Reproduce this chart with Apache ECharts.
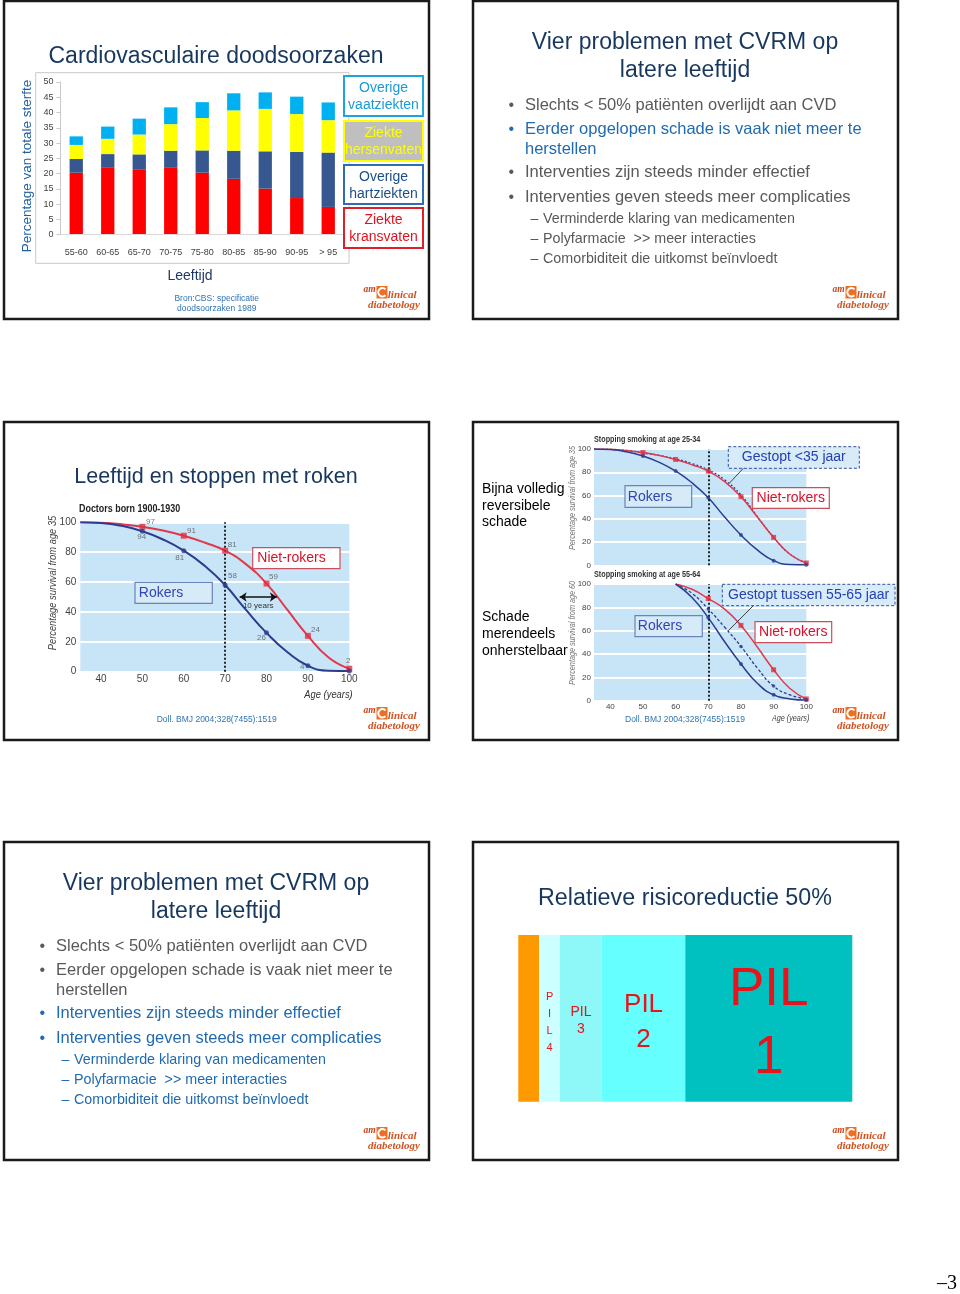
<!DOCTYPE html>
<html><head><meta charset="utf-8">
<script src="https://cdn.jsdelivr.net/npm/echarts/dist/echarts.min.js"></script>
<style>html,body{margin:0;padding:0;background:#fff}#c{width:960px;height:1294px}</style>
</head><body><div id="c"></div>
<script>
// ---------- DATA ----------
// Slide 1: Cardiovasculaire doodsoorzaken (stacked %, per age group)
const ageGroups = ['55-60', '60-65', '65-70', '70-75', '75-80', '80-85', '85-90', '90-95', '> 95'];
const kransvaten  = [20.3, 21.9, 21.4, 21.9, 20.3, 18.3, 15.1, 12.0, 9.1];
const overigeHart = [4.5, 4.5, 4.9, 5.6, 7.3, 9.2, 12.2, 15.1, 17.8];
const hersenvaten = [4.6, 5.0, 6.5, 8.7, 10.6, 13.2, 13.9, 12.4, 10.6];
const overigeVaat = [2.8, 4.0, 5.2, 5.5, 5.2, 5.6, 5.4, 5.7, 5.8];
const barYTicks = [0, 50, 5];

// Slide 3 / slide 4 top: survival from age 35
const curveAges       = [35, 40, 45, 50, 55, 60, 65, 70, 75, 80, 85, 90, 95, 100];
const nonSmokerCurve  = [100, 99.7, 98.7, 97, 94.5, 91, 86.5, 81, 72, 59, 41.5, 24, 9.5, 2];
const smokerCurve     = [100, 99.5, 97.6, 94, 88.5, 81, 71, 58, 41.5, 26, 13.2, 4, 0.6, 0.4];
const stopped25Curve  = [100, 99.7, 98.7, 96.5, 94.5, 91.5, 87.5, 82, 73.5, 60.5, 42, 24, 9.5, 2];
const markerAges      = [50, 60, 70, 80, 90, 100];
const nonSmokerMarks  = [97, 91, 81, 59, 24, 2];
const smokerMarks     = [94, 81, 58, 26, 4, 0.4];
const ageTicks        = [40, 50, 60, 70, 80, 90, 100];

// Slide 4 bottom: survival from age 60, stopping at 55-64
const lateAges         = [60, 65, 70, 75, 80, 85, 90, 95, 100];
const lateNonSmoker    = [100, 95.5, 87.5, 78.5, 64.5, 46, 26.5, 10.5, 1.5];
const lateSmoker       = [100, 88.5, 71, 50.5, 31.5, 15, 5, 1.5, 0.5];
const lateStopped      = [100, 92, 78.5, 63, 46.5, 28, 12.5, 5, 1.5];
const lateMarkAges     = [70, 80, 90, 100];
const lateNonSmokMarks = [87.5, 64.5, 26.5, 1.5];
const lateSmokMarks    = [71, 31.5, 5, 0.5];
const lateStopMarks    = [78.5, 46.5, 12.5];

// Slide 6: Relatieve risicoreductie 50%
const pilLabels = ['', 'P\nI\nL\n4', 'PIL\n3', 'PIL\n2', 'PIL\n1'];
const pilShares = [6.25, 6.25, 12.5, 25, 50];

// ---------- STYLE / LAYOUT ----------
const FF = '"Liberation Sans", Arial, sans-serif';
const FN = '"Liberation Sans Narrow", "Liberation Sans", Arial, sans-serif';
const SERIF = '"Liberation Serif", "Times New Roman", serif';
const NAVY = '#17375e', GRAY = '#595959', BLUE = '#1f6ab0', CITE = '#2e75b6';
const RED_L = '#e0394b', BLUE_L = '#2c3d8f', PLOT_BG = '#c8e5f7';

function T(x, y, text, o) {
  o = o || {};
  const align = o.align || 'center', va = o.va || 'middle';
  return { type: 'text', x: x, y: y, rotation: o.rot || 0, scaleX: o.sx || 1, z: o.z || 20, silent: true,
    style: { text: text, fill: o.color || '#000', fontSize: o.size || 12, fontFamily: o.family || FF,
      fontStyle: o.italic ? 'italic' : 'normal', fontWeight: o.bold ? 'bold' : 'normal',
      align: align, verticalAlign: va, textAlign: align, textVerticalAlign: va } };
}
function R(x, y, w, h, o) {
  o = o || {};
  return { type: 'rect', z: o.z || 1, silent: true, shape: { x: x, y: y, width: w, height: h },
    style: { fill: o.fill || 'none', stroke: o.stroke || null, lineWidth: o.lw || 1, lineDash: o.dash || null } };
}
function L(x1, y1, x2, y2, o) {
  o = o || {};
  return { type: 'line', z: o.z || 15, silent: true, shape: { x1: x1, y1: y1, x2: x2, y2: y2 },
    style: { stroke: o.color || '#333', lineWidth: o.lw || 1, lineDash: o.dash || null } };
}
function logo(ox, oy) {
  return [
    T(ox + 365.5, oy + 288.5, 'am', { size: 9.5, italic: true, bold: true, family: SERIF, color: '#c9471c' }),
    R(ox + 372.5, oy + 285, 11, 12.5, { fill: '#ee6e24', z: 20 }),
    { type: 'arc', z: 21, silent: true, shape: { cx: ox + 378.5, cy: oy + 291.3, r: 4.2, startAngle: 0.8, endAngle: 5.5, clockwise: true },
      style: { stroke: '#fff', lineWidth: 2, fill: 'none' } },
    T(ox + 383.8, oy + 294.5, 'linical', { align: 'left', size: 11, italic: true, bold: true, family: SERIF, color: '#cf5320' }),
    T(ox + 390, oy + 304.3, 'diabetology', { size: 11, italic: true, bold: true, family: SERIF, color: '#cf5320' })
  ];
}
const slides = [[4, 1], [473, 1], [4, 422], [473, 422], [4, 842], [473, 842]];

const G = [];
slides.forEach(function (s) {
  G.push(R(s[0], s[1], 425, 318, { stroke: '#1a1a1a', lw: 2.5, z: 30 }));
  logo(s[0], s[1]).forEach(function (e) { G.push(e); });
});

// Slide 1 texts
G.push(T(216, 57, 'Cardiovasculaire doodsoorzaken', { size: 23, color: NAVY }));
G.push(R(35.7, 72.7, 313.3, 190.6, { stroke: '#c8c8c8', fill: '#fff', lw: 1, z: -5 }));
G.push(T(27, 166, 'Percentage van totale sterfte', { size: 13.5, color: '#2060a0', rot: Math.PI / 2 }));
G.push(T(190, 276, 'Leeftijd', { size: 14, color: '#1f3864' }));
G.push(T(216.7, 299, 'Bron:CBS: specificatie', { size: 8.5, color: CITE }));
G.push(T(216.7, 308.3, 'doodsoorzaken 1989', { size: 8.5, color: CITE }));
const legendBoxes = [
  { y: 76, h: 40, lines: ['Overige', 'vaatziekten'], stroke: '#1fa2de', fill: '#fff', color: '#1a9ad6' },
  { y: 121, h: 40, lines: ['Ziekte', 'hersenvaten'], stroke: '#ffff00', fill: '#bfbfbf', color: '#ffff00' },
  { y: 165, h: 39, lines: ['Overige', 'hartziekten'], stroke: '#2e6db4', fill: '#fff', color: '#1b4f8a' },
  { y: 208, h: 40, lines: ['Ziekte', 'kransvaten'], stroke: '#e01e28', fill: '#fff', color: '#e0141e' }
];
legendBoxes.forEach(function (b) {
  G.push(R(344, b.y, 79, b.h, { stroke: b.stroke, fill: b.fill, lw: 2, z: 10 }));
  G.push(T(383.5, b.y + 12, b.lines[0], { size: 14, color: b.color }));
  G.push(T(383.5, b.y + 29.5, b.lines[1], { size: 14, color: b.color }));
});

// Slide 2 and 5 bullet texts
function bullets(ox, oy, blueIdx, subBlue) {
  const rows = [
    ['Slechts < 50% patiënten overlijdt aan CVD', 104.3],
    ['Eerder opgelopen schade is vaak niet meer te', 128.3, 'herstellen', 148],
    ['Interventies zijn steeds minder effectief', 171.7],
    ['Interventies geven steeds meer complicaties', 196.3]
  ];
  rows.forEach(function (r, i) {
    const c = blueIdx.indexOf(i) >= 0 ? BLUE : GRAY;
    G.push(T(ox + 38.3, oy + r[1], '•', { size: 16, color: c }));
    G.push(T(ox + 52, oy + r[1], r[0], { size: 16.5, color: c, align: 'left' }));
    if (r[2]) G.push(T(ox + 52, oy + r[3], r[2], { size: 16.5, color: c, align: 'left' }));
  });
  const subs = [['Verminderde klaring van medicamenten', 217.7], ['Polyfarmacie  >> meer interacties', 238.3], ['Comorbiditeit die uitkomst beïnvloedt', 258.3]];
  subs.forEach(function (r) {
    const c = subBlue ? BLUE : GRAY;
    G.push(T(ox + 57.5, oy + r[1], '–', { size: 14, color: c, align: 'left' }));
    G.push(T(ox + 70, oy + r[1], r[0], { size: 14.3, color: c, align: 'left' }));
  });
  G.push(T(ox + 212, oy + 41.7, 'Vier problemen met CVRM op', { size: 23, color: NAVY }));
  G.push(T(ox + 212, oy + 69.7, 'latere leeftijd', { size: 23, color: NAVY }));
}
bullets(473, 1, [1], false);
bullets(4, 842, [2, 3], true);

// Slide 3 texts
G.push(T(216, 477.3, 'Leeftijd en stoppen met roken', { size: 21.5, color: NAVY }));
G.push(T(79, 509.3, 'Doctors born 1900-1930', { size: 10.5, bold: true, family: FN, color: '#222', align: 'left', sx: 0.85 }));
G.push(T(53.3, 583, 'Percentage survival from age 35', { size: 11, italic: true, family: FN, color: '#444', rot: Math.PI / 2, sx: 0.85 }));
G.push(T(352.7, 695, 'Age (years)', { size: 11, italic: true, family: FN, color: '#333', align: 'right', sx: 0.85 }));
G.push(T(216.7, 719.3, 'Doll. BMJ 2004;328(7455):1519', { size: 8.5, color: CITE }));
G.push(R(135, 582.3, 77.3, 21, { stroke: '#6a84b8', fill: '#d6eaf8', lw: 1.2, z: 12 }));
G.push(T(161, 593, 'Rokers', { size: 14, color: '#3245b5', z: 13 }));
G.push(R(252.7, 547.7, 87.3, 21, { stroke: '#c8505e', fill: '#fff', lw: 1.2, z: 12 }));
G.push(T(291.5, 558.5, 'Niet-rokers', { size: 14, color: '#d8102a', z: 13 }));

// Slide 4 texts
[['Bijna volledig', 489], ['reversibele', 506], ['schade', 522.3], ['Schade', 617.3], ['merendeels', 634.3], ['onherstelbaar', 651.3]].forEach(function (r) {
  G.push(T(482, r[1], r[0], { size: 14, color: '#000', align: 'left' }));
});
G.push(T(594, 439.3, 'Stopping smoking at age 25-34', { size: 8.5, bold: true, family: FN, color: '#333', align: 'left', sx: 0.85 }));
G.push(T(594, 575, 'Stopping smoking at age 55-64', { size: 8.5, bold: true, family: FN, color: '#333', align: 'left', sx: 0.85 }));
G.push(T(573, 498, 'Percentage survival from age 35', { size: 8.5, italic: true, family: FN, color: '#777', rot: Math.PI / 2, sx: 0.85 }));
G.push(T(573, 633, 'Percentage survival from age 60', { size: 8.5, italic: true, family: FN, color: '#777', rot: Math.PI / 2, sx: 0.85 }));
G.push(T(809.3, 718.3, 'Age (years)', { size: 8.5, italic: true, family: FN, color: '#444', align: 'right', sx: 0.85 }));
G.push(T(685, 719.3, 'Doll. BMJ 2004;328(7455):1519', { size: 8.5, color: CITE }));
G.push(R(728.3, 446.7, 131, 21.6, { stroke: '#3050a0', fill: '#d8ebf8', lw: 1, dash: [3, 2], z: 12 }));
G.push(T(793.8, 457.5, 'Gestopt <35 jaar', { size: 14, color: '#2440b0', z: 13 }));
G.push(L(743.3, 468.3, 729.3, 483.3, { color: '#404040', lw: 1 }));
G.push(R(625, 485.7, 66.7, 21.6, { stroke: '#6a84b8', fill: '#d6eaf8', lw: 1.2, z: 12 }));
G.push(T(650, 497, 'Rokers', { size: 14, color: '#3245b5', z: 13 }));
G.push(R(752.3, 487.7, 77, 20.6, { stroke: '#c8505e', fill: '#fff', lw: 1.2, z: 12 }));
G.push(T(790.8, 498.3, 'Niet-rokers', { size: 14, color: '#d8102a', z: 13 }));
G.push(R(722.3, 584.3, 172.7, 21.4, { stroke: '#3050a0', fill: '#d8ebf8', lw: 1, dash: [3, 2], z: 12 }));
G.push(T(808.6, 595.3, 'Gestopt tussen 55-65 jaar', { size: 14, color: '#2440b0', z: 13 }));
G.push(L(753.3, 605.7, 728.3, 630.7, { color: '#404040', lw: 1 }));
G.push(R(635, 615.7, 67.3, 21, { stroke: '#6a84b8', fill: '#d6eaf8', lw: 1.2, z: 12 }));
G.push(T(660, 626.5, 'Rokers', { size: 14, color: '#3245b5', z: 13 }));
G.push(R(755, 621.7, 76.7, 21, { stroke: '#c8505e', fill: '#fff', lw: 1.2, z: 12 }));
G.push(T(793.3, 632.5, 'Niet-rokers', { size: 14, color: '#d8102a', z: 13 }));

// Slide 6 title and page number
G.push(T(685, 898.3, 'Relatieve risicoreductie 50%', { size: 23.3, color: NAVY }));
G.push(T(957, 1284, '–3', { size: 20, family: SERIF, color: '#000', align: 'right' }));

// ---------- SERIES HELPERS ----------
function curve(ages, vals, gi, color, width, dash, extra) {
  const s = { type: 'line', xAxisIndex: gi, yAxisIndex: gi, data: ages.map(function (a, i) { return [a, vals[i]]; }),
    smooth: 0.5, showSymbol: false, symbol: 'none', silent: true, z: 3,
    lineStyle: { color: color, width: width, type: dash || 'solid' } };
  if (extra) Object.assign(s, extra);
  return s;
}
function marks(ages, vals, gi, symbol, size, color, labels) {
  return { type: 'scatter', xAxisIndex: gi, yAxisIndex: gi, symbol: symbol, symbolSize: size, silent: true, z: 5,
    itemStyle: { color: color },
    data: ages.map(function (a, i) {
      const d = { value: [a, vals[i]] };
      if (labels) d.label = labels[i] ? { show: true, position: 'inside', offset: labels[i], fontSize: 8, color: '#555',
        fontFamily: FN, formatter: function (p) { return Math.round(p.value[1]); } } : { show: false };
      return d;
    }) };
}
function vDotted() {
  return { silent: true, symbol: ['none', 'none'], label: { show: false },
    lineStyle: { color: '#111', width: 1.8, type: [2, 2] }, data: [[{ coord: [70, 0] }, { coord: [70, 100] }]] };
}
const redLabelOffsets  = [[8, -5], [7.7, -5], [7, -5.7], [7, -6.3], [7.5, -5.7], [-1, -8.3]];
const blueLabelOffsets = [[-0.7, 6], [-4, 6.7], [7.3, -9.7], [-5, 5], [-5.7, 1.3], null];

// ---------- OPTION ----------
const survX = function (gi, showLabels, fs) {
  return { type: 'value', gridIndex: gi, min: 35, max: 100, splitLine: { show: false }, axisLine: { show: false }, axisTick: { show: false },
    axisLabel: { show: showLabels, customValues: ageTicks, fontSize: fs, color: '#444', fontFamily: FN, margin: fs > 9 ? 3 : 2 } };
};
const survY = function (gi, fs, margin) {
  return { type: 'value', gridIndex: gi, min: 0, max: 100, interval: 20, axisLine: { show: false }, axisTick: { show: false },
    splitLine: { show: true, lineStyle: { color: '#ffffff', width: 2 } },
    axisLabel: { fontSize: fs, color: '#444', fontFamily: FN, margin: margin } };
};
const gridBase = { containLabel: false, outerBoundsMode: 'none' };

const option = {
  animation: false,
  backgroundColor: '#ffffff',
  textStyle: { fontFamily: FF },
  graphic: { elements: G },
  grid: [
    Object.assign({ left: 60.5, top: 82, width: 283.5, height: 152.7 }, gridBase),
    Object.assign({ left: 80.3, top: 522.3, width: 269, height: 149.4, show: true, backgroundColor: PLOT_BG, borderWidth: 0 }, gridBase),
    Object.assign({ left: 594, top: 449, width: 212.3, height: 116.3, show: true, backgroundColor: PLOT_BG, borderWidth: 0 }, gridBase),
    Object.assign({ left: 594, top: 584, width: 212.3, height: 116.7, show: true, backgroundColor: PLOT_BG, borderWidth: 0 }, gridBase),
    Object.assign({ left: 518.3, top: 935, width: 334, height: 166.7 }, gridBase)
  ],
  xAxis: [
    { type: 'category', gridIndex: 0, data: ageGroups, z: 6, axisTick: { show: false },
      axisLine: { show: true, lineStyle: { color: '#d9d9d9' } },
      axisLabel: { fontSize: 9, color: '#404040', margin: 13 } },
    survX(1, true, 10),
    survX(2, false, 8),
    survX(3, true, 8),
    { type: 'value', gridIndex: 4, min: 0, max: 100, show: false }
  ],
  yAxis: [
    { type: 'value', gridIndex: 0, z: 6, min: barYTicks[0], max: barYTicks[1], interval: barYTicks[2],
      axisLine: { show: true, lineStyle: { color: '#c8c8c8' } },
      axisTick: { show: true, length: 4, lineStyle: { color: '#c8c8c8' } },
      splitLine: { show: false }, axisLabel: { fontSize: 9, color: '#404040', margin: 7 } },
    survY(1, 10, 4),
    survY(2, 8, 3),
    survY(3, 8, 3),
    { type: 'category', gridIndex: 4, data: ['Risico'], show: false }
  ],
  series: [
    { type: 'bar', name: 'Ziekte kransvaten', stack: 'cv', xAxisIndex: 0, yAxisIndex: 0, data: kransvaten, barWidth: 13.3, itemStyle: { color: '#ff0000' } },
    { type: 'bar', name: 'Overige hartziekten', stack: 'cv', xAxisIndex: 0, yAxisIndex: 0, data: overigeHart, barWidth: 13.3, itemStyle: { color: '#36578f' } },
    { type: 'bar', name: 'Ziekte hersenvaten', stack: 'cv', xAxisIndex: 0, yAxisIndex: 0, data: hersenvaten, barWidth: 13.3, itemStyle: { color: '#ffff00' } },
    { type: 'bar', name: 'Overige vaatziekten', stack: 'cv', xAxisIndex: 0, yAxisIndex: 0, data: overigeVaat, barWidth: 13.3, itemStyle: { color: '#00b0f0' } },

    // slide 3
    curve(curveAges, nonSmokerCurve, 1, RED_L, 2, null, { markLine: vDotted() }),
    curve(curveAges, smokerCurve, 1, BLUE_L, 2, null, { markLine: { silent: true, symbol: ['arrow', 'arrow'], symbolSize: 7,
      lineStyle: { color: '#111', width: 1.5, type: 'solid' },
      label: { show: true, position: 'insideMiddleBottom', formatter: '10 years', fontSize: 8, color: '#333', fontFamily: FN, distance: 5 },
      data: [[{ coord: [73.5, 50] }, { coord: [82.5, 50] }]] } }),
    marks(markerAges, nonSmokerMarks, 1, 'rect', 6, '#e0303f', redLabelOffsets),
    marks(markerAges, smokerMarks, 1, 'circle', 5, BLUE_L, blueLabelOffsets),

    // slide 4 top
    curve(curveAges, stopped25Curve, 2, BLUE_L, 1.3, [2, 2]),
    curve(curveAges, nonSmokerCurve, 2, RED_L, 1.5, null, { markLine: vDotted() }),
    curve(curveAges, smokerCurve, 2, BLUE_L, 1.5),
    marks(markerAges, nonSmokerMarks, 2, 'rect', 5, '#e0303f'),
    marks(markerAges, smokerMarks, 2, 'circle', 4, BLUE_L),

    // slide 4 bottom
    curve(lateAges, lateStopped, 3, BLUE_L, 1.3, [3, 2]),
    curve(lateAges, lateNonSmoker, 3, RED_L, 1.5, null, { markLine: vDotted() }),
    curve(lateAges, lateSmoker, 3, BLUE_L, 1.5),
    marks(lateMarkAges, lateNonSmokMarks, 3, 'rect', 5, '#e0303f'),
    marks(lateMarkAges, lateSmokMarks, 3, 'circle', 4, BLUE_L),
    marks(lateMarkAges.slice(0, 3), lateStopMarks, 3, 'circle', 3.5, BLUE_L)
  ]
};

// slide 6 stacked blocks
const pilColors = ['#ff9900', '#ccffff', '#8ef7f7', '#66ffff', '#00c0c0'];
const pilFont = [[0, 0, 0], [11, 17, 4], [14, 17, 2], [26, 35.6, 4], [53, 68, 6.5]];
pilShares.forEach(function (v, i) {
  option.series.push({ type: 'bar', stack: 'pil', xAxisIndex: 4, yAxisIndex: 4, barWidth: '100%', silent: true,
    data: [v], itemStyle: { color: pilColors[i] },
    label: { show: i > 0, position: 'inside', formatter: pilLabels[i], color: '#e8141c', fontFamily: FF,
      offset: [0, pilFont[i][2]], fontSize: pilFont[i][0] || 10, lineHeight: pilFont[i][1] || 12 } });
});

const chart = echarts.init(document.getElementById('c'), null, { renderer: 'canvas', width: 960, height: 1294 });
chart.setOption(option);
</script>
</body></html>
